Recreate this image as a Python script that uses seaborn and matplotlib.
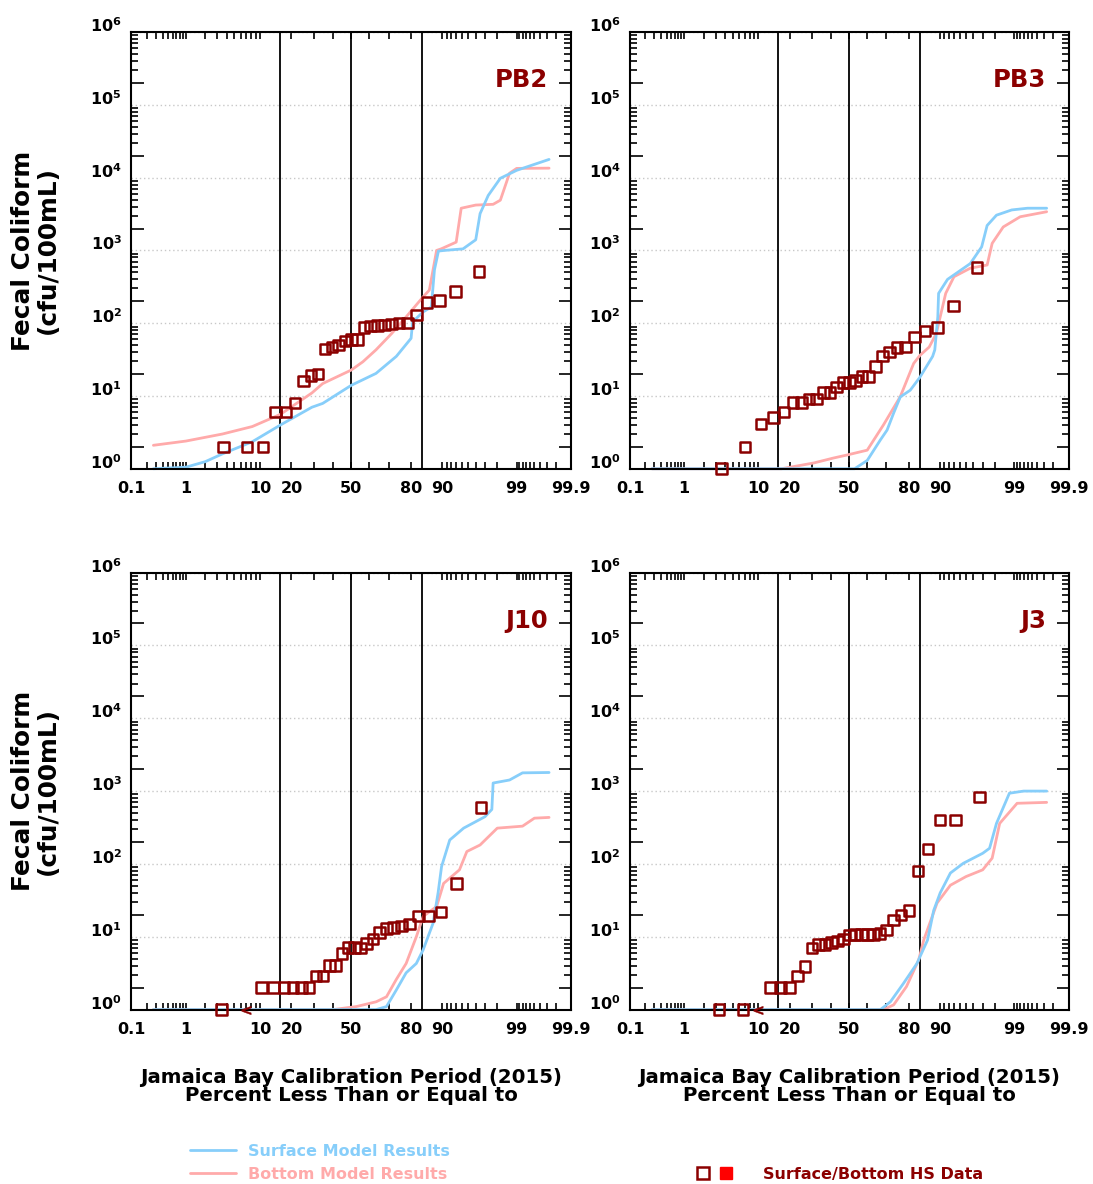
import numpy as np
import matplotlib
matplotlib.use("Agg")
import matplotlib.pyplot as plt
import matplotlib.ticker as mticker
from matplotlib.lines import Line2D
from matplotlib.legend_handler import HandlerTuple
import seaborn as sns
from statistics import NormalDist

sns.set_style("ticks")
plt.rcParams["font.family"] = ["DejaVu Sans"]
plt.rcParams["font.weight"] = "bold"
plt.rcParams["mathtext.fontset"] = "dejavusans"
plt.rcParams["mathtext.default"] = "bf"
for key in ["text.color", "axes.labelcolor", "xtick.color", "ytick.color"]:
    plt.rcParams[key] = "black"

SURF = "#87cefa"
BOT = "#ffaaaa"
DARKRED = "#8b0000"

# ---- data (percent less than or equal to, fecal coliform cfu/100mL) ----
# PB2
pb2_obs_pct = [3.6, 7.1, 10.7, 14.3, 17.9, 21.4, 25.0, 28.6, 32.1, 35.7, 39.3, 42.9, 46.4, 50.0,
               53.6, 57.1, 60.7, 64.3, 67.9, 71.4, 75.0, 78.6, 82.1, 85.7, 89.3, 92.9, 96.4]
pb2_obs = [2, 2, 2, 6, 6, 8, 16, 19, 20, 44, 47, 50, 57, 60,
           60, 88, 91, 93, 95, 97, 100, 101, 130, 193, 205, 275, 515]
pb2_surf_pct = [0.27, 1.0, 2.0, 3.5, 8.2, 16, 29, 34.4, 50, 63.6, 73.7, 80.0, 80.6, 84.4, 87.0,
                87.9, 89.0, 90.5, 94.2, 96.0, 96.5, 97.3, 98.2, 99.0, 99.73]
pb2_surf = [1, 1.05, 1.25, 1.6, 2.35, 4.0, 7.0, 7.9, 14, 20.4, 35, 62, 104, 143, 167,
            540, 980, 1000, 1050, 1400, 3200, 5700, 9800, 12600, 17800]
pb2_bot_pct = [0.27, 1.0, 3.5, 8.2, 16, 29, 34.4, 50, 56.5, 63.6, 71.5, 78, 84.4, 86.4, 88.5,
               89.7, 93.0, 93.9, 96.0, 97.7, 98.2, 98.7, 99.0, 99.73]
pb2_bot = [2.1, 2.4, 3.0, 3.8, 5.6, 11, 14.8, 22.7, 29.5, 43, 72, 122, 230, 285, 1000,
           1050, 1300, 3800, 4200, 4300, 4900, 11500, 13400, 13500]

# PB3
pb3_obs_pct = pb2_obs_pct
pb3_obs = [1, 2, 4.1, 5.1, 6, 8.1, 8.1, 9.1, 9.1, 11.2, 11.2, 13.3, 15.4, 15.4,
           16.2, 18.4, 18.5, 25.5, 35.3, 40, 46, 47, 65, 78, 87, 172, 585]
pb3_surf_pct = [0.27, 53, 60, 67, 70.3, 73.4, 76.4, 80.5, 84, 88, 88.6, 89.4, 89.6, 91.7,
                95.6, 96.9, 97.4, 98.1, 98.9, 99.4, 99.73]
pb3_surf = [1, 1, 1.3, 2.5, 3.4, 5.8, 9.7, 12, 18, 35, 43, 122, 257, 400,
            660, 1120, 2200, 3050, 3600, 3800, 3800]
pb3_bot_pct = [0.27, 17, 30.8, 41, 49, 60, 68.5, 76.4, 81.8, 84, 87, 89, 91.3, 93,
               95.6, 97.4, 97.8, 98.5, 99.2, 99.73]
pb3_bot = [1, 1, 1.2, 1.4, 1.55, 1.8, 4.0, 9.8, 28, 36, 47, 72, 257, 435,
           570, 630, 1250, 2100, 2900, 3400]

# J10
j10_obs_pct = [3.4, 10.3, 13.8, 17.2, 20.7, 24.1, 27.6, 31.0, 34.5, 37.9, 41.4, 44.8, 48.3, 51.7,
               55.2, 58.6, 62.1, 65.5, 69.0, 72.4, 75.9, 79.3, 82.8, 86.2, 89.7, 93.1, 96.6]
j10_obs = [1, 2, 2, 2, 2, 2, 2, 2.9, 2.9, 4, 4, 5.9, 7.1, 7.1,
           7, 8.1, 9.3, 11.4, 13, 13.5, 14, 15, 19.3, 19.3, 22, 54, 600]
j10_nd_pct = [6.9]
j10_nd = [1]
j10_surf_pct = [0.27, 63.7, 69, 73.7, 78, 82, 84.4, 87.5, 88.9, 89.8, 91.7, 94.3, 97.0, 97.6,
                97.7, 98.7, 99.2, 99.73]
j10_surf = [1, 1, 1.1, 1.86, 3.2, 4.3, 6.6, 15.3, 40, 92, 213, 310, 445, 560,
            1290, 1420, 1780, 1800]
j10_bot_pct = [0.27, 39.8, 52.8, 63.7, 69, 73.7, 78, 82, 84.4, 88.5, 90.3, 93.6, 94.8, 96.5,
               98.0, 99.2, 99.5, 99.73]
j10_bot = [1, 1, 1.1, 1.28, 1.5, 2.6, 4.3, 10, 19, 26, 54, 83, 148, 182,
           310, 330, 425, 435]

# J3
j3_obs_pct = [3.3, 6.7, 13.3, 16.7, 20.0, 23.3, 26.7, 30.0, 33.3, 36.7, 40.0, 43.3, 46.7, 50.0,
              53.3, 56.7, 60.0, 63.3, 66.7, 70.0, 73.3, 76.7, 80.0, 83.3, 86.7, 90.0, 93.3, 96.7]
j3_obs = [1, 1, 2, 2, 2, 2.9, 3.9, 7, 7.9, 7.9, 8.3, 8.7, 9.3, 10.6,
          10.7, 10.7, 10.7, 10.8, 11, 12.4, 17, 20, 23, 80, 160, 400, 400, 825]
j3_nd_pct = [10.0]
j3_nd = [1]
j3_surf_pct = [0.27, 67, 71.9, 77.8, 83, 86.5, 88.3, 90, 92.3, 94.6, 97, 97.6, 98.1, 98.8,
               99.3, 99.73]
j3_surf = [1, 1, 1.28, 2.3, 4.3, 9, 23, 40, 75, 102, 140, 164, 360, 935, 1000, 1000]
j3_bot_pct = [0.27, 68.5, 73.4, 79, 83.6, 85.3, 89.2, 92.3, 95, 97, 97.8, 98.3, 99.1, 99.73]
j3_bot = [1, 1, 1.16, 2.07, 4.8, 9, 29, 51, 67, 83, 120, 360, 680, 700]

stations = ["PB2", "PB3", "J10", "J3"]
sigma_pcts = [15.87, 50, 84.13]

x_major = [0.1, 1, 10, 20, 50, 80, 90, 99, 99.9]
x_labels = ["0.1", "1", "10", "20", "50", "80", "90", "99", "99.9"]
x_minor = ([0.2, 0.3, 0.4, 0.5, 0.6, 0.7, 0.8, 0.9] + [2, 3, 4, 5, 6, 7, 8, 9]
           + [30, 40, 60, 70] + [91, 92, 93, 94, 95, 96, 97, 98]
           + [99.1, 99.2, 99.3, 99.4, 99.5, 99.6, 99.7, 99.8])
y_major = [1, 1e1, 1e2, 1e3, 1e4, 1e5, 1e6]
y_labels = [r"$10^{%d}$" % i for i in range(7)]
y_minor = [m * 10.0 ** e for e in range(6) for m in range(2, 10)]

panel_data = {
    "PB2": (pb2_obs_pct, pb2_obs, [], [], pb2_surf_pct, pb2_surf, pb2_bot_pct, pb2_bot),
    "PB3": (pb3_obs_pct, pb3_obs, [], [], pb3_surf_pct, pb3_surf, pb3_bot_pct, pb3_bot),
    "J10": (j10_obs_pct, j10_obs, j10_nd_pct, j10_nd, j10_surf_pct, j10_surf, j10_bot_pct, j10_bot),
    "J3": (j3_obs_pct, j3_obs, j3_nd_pct, j3_nd, j3_surf_pct, j3_surf, j3_bot_pct, j3_bot),
}

# normal probability scale for the x axis
_nd = NormalDist()
_inv = np.vectorize(_nd.inv_cdf, otypes=[float])
_cdf = np.vectorize(_nd.cdf, otypes=[float])


def pct_to_z(p):
    p = np.clip(np.asarray(p, dtype=float) / 100.0, 1e-9, 1 - 1e-9)
    return _inv(p)


def z_to_pct(z):
    return _cdf(np.asarray(z, dtype=float)) * 100.0


fig = plt.figure(figsize=(10.93, 11.84), dpi=100)

positions = {
    "PB2": [0.1203, 0.6041, 0.4021, 0.3688],
    "PB3": [0.5764, 0.6041, 0.4012, 0.3688],
    "J10": [0.1203, 0.1473, 0.4021, 0.3691],
    "J3": [0.5764, 0.1473, 0.4012, 0.3691],
}

for name in stations:
    obs_pct, obs, nd_pct, nd, s_pct, s_val, b_pct, b_val = panel_data[name]
    ax = fig.add_axes(positions[name])
    ax.set_xscale("function", functions=(pct_to_z, z_to_pct))
    ax.set_yscale("log")

    for p in sigma_pcts:
        ax.axvline(p, color="black", lw=1.3, zorder=1.5)

    sns.lineplot(x=b_pct, y=b_val, ax=ax, color=BOT, lw=2, estimator=None,
                 sort=False, clip_on=False, zorder=2)
    sns.lineplot(x=s_pct, y=s_val, ax=ax, color=SURF, lw=2, estimator=None,
                 sort=False, clip_on=False, zorder=2.1)
    sns.scatterplot(x=obs_pct, y=obs, ax=ax, marker="s", s=58, facecolor="none",
                    edgecolor=DARKRED, linewidth=1.8, clip_on=False, zorder=4)
    if nd_pct:
        sns.scatterplot(x=nd_pct, y=nd, ax=ax, marker="$<$", s=45, color=DARKRED,
                        edgecolor=DARKRED, linewidth=0.3, clip_on=False, zorder=4)

    ax.set_xlim(0.1, 99.9)
    ax.set_ylim(1, 1e6)

    ax.set_xticks(x_major, labels=x_labels)
    ax.xaxis.set_minor_locator(mticker.FixedLocator(x_minor))
    ax.xaxis.set_minor_formatter(mticker.NullFormatter())
    ax.tick_params(axis="x", which="both", direction="in", top=True, bottom=True,
                   length=5, width=1.2, labelsize=11.5, pad=9)

    ax.set_yticks(y_major, labels=y_labels)
    ax.yaxis.set_minor_locator(mticker.FixedLocator(y_minor))
    ax.yaxis.set_minor_formatter(mticker.NullFormatter())
    ax.tick_params(axis="y", which="major", direction="in", left=True, right=True,
                   length=0, labelsize=11.5, pad=7)
    ax.tick_params(axis="y", which="minor", direction="in", left=True, right=True,
                   length=5, width=1.2)
    for lbl in ax.get_yticklabels():
        lbl.set_va("baseline")
    # longer ticks at 2 x 10^n
    for t, loc in zip(ax.yaxis.get_minor_ticks(len(y_minor)), y_minor):
        if round(loc / 10 ** np.floor(np.log10(loc))) == 2:
            t.tick1line.set_markersize(9)
            t.tick2line.set_markersize(9)

    ax.yaxis.grid(True, which="major", color="#c8c8c8", ls=(0, (1, 2)), lw=1)
    ax.xaxis.grid(False)
    ax.set_axisbelow(True)
    for sp in ax.spines.values():
        sp.set_linewidth(1.5)
        sp.set_color("black")

    ax.text(0.948, 0.89, name, transform=ax.transAxes, ha="right", va="center",
            color=DARKRED, fontsize=17.5, fontweight="bold")

    if name in ("PB2", "J10"):
        ax.set_ylabel("Fecal Coliform\n(cfu/100mL)", fontsize=17.8, fontweight="bold",
                      linespacing=1.05, labelpad=22)
    else:
        ax.set_ylabel("")
    if name in ("J10", "J3"):
        ax.set_xlabel("Jamaica Bay Calibration Period (2015)\nPercent Less Than or Equal to",
                      fontsize=14.2, fontweight="bold", linespacing=0.95, labelpad=22)
    else:
        ax.set_xlabel("")

# legends at the bottom
line_handles = [Line2D([], [], color=SURF, lw=2), Line2D([], [], color=BOT, lw=2)]
fig.legend(line_handles, ["Surface Model Results", "Bottom Model Results"],
           loc="upper left", bbox_to_anchor=(190 / 1093, 1 - 1144 / 1184),
           frameon=False, fontsize=11.5, labelcolor=[SURF, BOT],
           handlelength=2.9, handletextpad=0.75, labelspacing=0.5,
           borderpad=0, borderaxespad=0)

sq_open = Line2D([], [], marker="s", ls="", mfc="none", mec=DARKRED, ms=8.5, mew=1.8)
sq_fill = Line2D([], [], marker="s", ls="", color="#ff0000", ms=8.5)
fig.legend([(sq_open, sq_fill)], ["Surface/Bottom HS Data"],
           handler_map={tuple: HandlerTuple(ndivide=None, pad=0.6)},
           loc="upper left", bbox_to_anchor=(696 / 1093, 1 - 1167 / 1184),
           frameon=False, fontsize=11.5, labelcolor=DARKRED,
           handlelength=2.3, handletextpad=1.9, borderpad=0, borderaxespad=0)

fig.savefig("out.png", dpi=100)
